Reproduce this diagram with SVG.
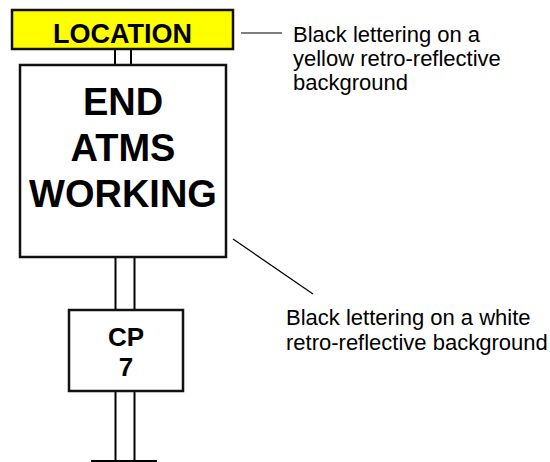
<svg xmlns="http://www.w3.org/2000/svg" width="550" height="462" viewBox="0 0 550 462">
<style>
.box{stroke:#111;stroke-width:2.5;}
.post{fill:#fff;stroke:#000;stroke-width:2;}
.big{font-family:"Liberation Sans",Arial,sans-serif;font-weight:bold;fill:#000;text-anchor:middle;}
.note{font-family:"Liberation Sans",Arial,sans-serif;font-size:22px;fill:#000;}
.lead{stroke:#000;stroke-width:1.2;fill:none;}
</style>
<rect width="550" height="462" fill="#fff"/>
<g id="posts">
<rect class="post" x="115" y="49" width="16" height="16"/>
<rect class="post" x="115.5" y="257" width="19" height="53"/>
<rect class="post" x="115.5" y="391" width="19" height="72"/>
<line x1="91" y1="461" x2="157" y2="461" stroke="#000" stroke-width="2"/>
</g>
<g id="location">
<rect class="box" x="12" y="10" width="221" height="39" fill="#ffff00"/>
<text class="big" x="122.5" y="43" font-size="27">LOCATION</text>
</g>
<g id="main-sign">
<rect class="box" x="20" y="65" width="206" height="192" fill="#fff"/>
<text class="big" x="123" y="115" font-size="38">END</text>
<text class="big" x="123" y="161" font-size="38">ATMS</text>
<text class="big" x="123" y="207" font-size="38">WORKING</text>
</g>
<g id="cp-sign">
<rect class="box" x="69" y="310" width="114" height="81" fill="#fff"/>
<text class="big" x="126" y="346" font-size="26">CP</text>
<text class="big" x="126" y="376" font-size="26">7</text>
</g>
<g id="connectors">
<line class="lead" x1="241" y1="33" x2="282" y2="33"/>
<line class="lead" x1="233" y1="239" x2="313" y2="294"/>
</g>
<g id="notes">
<text class="note" x="293" y="42">Black lettering on a</text>
<text class="note" x="293" y="66">yellow retro-reflective</text>
<text class="note" x="293" y="90">background</text>
<text class="note" x="286" y="325">Black lettering on a white</text>
<text class="note" x="286" y="350">retro-reflective background</text>
</g>
</svg>
